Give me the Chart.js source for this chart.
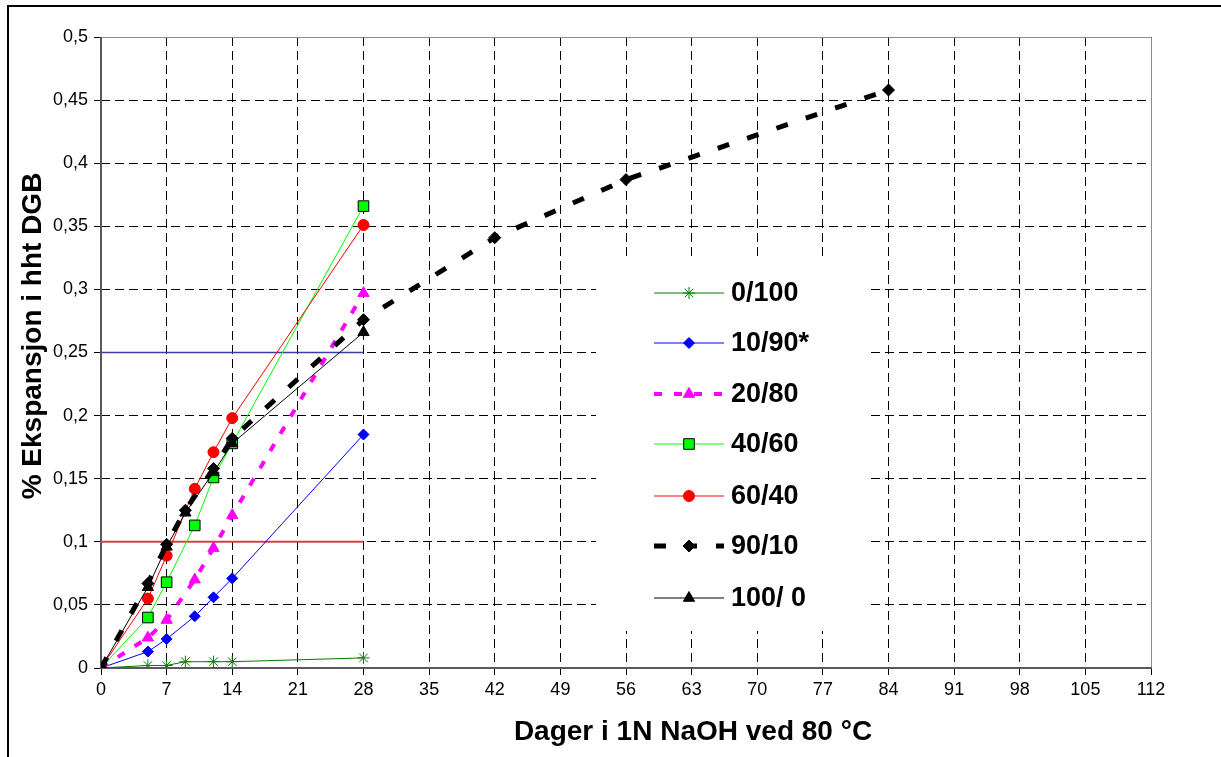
<!DOCTYPE html>
<html>
<head>
<meta charset="utf-8">
<script src="https://cdn.jsdelivr.net/npm/chart.js@4.4.1/dist/chart.umd.min.js"></script>
<style>
  html, body { margin: 0; padding: 0; background: #ffffff; }
  canvas { display: block; }
</style>
</head>
<body>
<canvas id="chart" width="1221" height="757"></canvas>
<script>
// Axis ticks
const yTickLabels = ['0', '0,05', '0,1', '0,15', '0,2', '0,25', '0,3', '0,35', '0,4', '0,45', '0,5'];
const xTickStep = 7;
const xMax = 112;

// Series: days in 1N NaOH and expansion (%)
const seriesNames = ['0/100', '10/90*', '20/80', '40/60', '60/40', '90/10', '100/ 0'];

const days0_100 = [0, 5, 7, 9, 12, 14, 28];
const exp0_100  = [0, 0.002, 0.002, 0.005, 0.005, 0.005, 0.008];

const days10_90 = [0, 5, 7, 10, 12, 14, 28];
const exp10_90  = [0, 0.013, 0.023, 0.041, 0.056, 0.071, 0.185];

const days20_80 = [0, 5, 7, 10, 12, 14, 28];
const exp20_80  = [0, 0.024, 0.038, 0.070, 0.095, 0.121, 0.297];

const days40_60 = [0, 5, 7, 10, 12, 14, 28];
const exp40_60  = [0, 0.040, 0.068, 0.113, 0.151, 0.178, 0.366];

const days60_40 = [0, 5, 7, 10, 12, 14, 28];
const exp60_40  = [0, 0.055, 0.089, 0.142, 0.171, 0.198, 0.351];

const days90_10 = [0, 5, 7, 9, 12, 14, 28, 42, 56, 84];
const exp90_10  = [0, 0.067, 0.098, 0.125, 0.158, 0.182, 0.276, 0.341, 0.387, 0.458];

const days100_0 = [0, 5, 7, 9, 12, 14, 28];
const exp100_0  = [0, 0.064, 0.096, 0.123, 0.155, 0.178, 0.266];

// Limit lines (0,25 % and 0,1 %) up to 28 days
const limitDays = [0, 28];
const limitHigh = [0.25, 0.25];
const limitLow  = [0.1, 0.1];

const toPoints = (xs, ys) => xs.map((x, i) => ({ x: x, y: ys[i] }));

const FONT = "'Liberation Sans', Arial, sans-serif";

const seriesDatasets = [
  {
    label: seriesNames[0], data: toPoints(days0_100, exp0_100),
    borderColor: '#008000', backgroundColor: '#008000', borderWidth: 1,
    pointStyle: 'star', pointRadius: 6, pointBorderColor: '#008000', pointBorderWidth: 1,
    order: 7
  },
  {
    label: seriesNames[1], data: toPoints(days10_90, exp10_90),
    borderColor: '#0000ff', backgroundColor: '#0000ff', borderWidth: 1,
    pointStyle: 'rectRot', pointRadius: 5.5, pointBorderColor: '#0000ff', pointBorderWidth: 1,
    order: 6
  },
  {
    label: seriesNames[2], data: toPoints(days20_80, exp20_80),
    borderColor: '#ff00ff', backgroundColor: '#ff00ff', borderWidth: 4, borderDash: [8, 12],
    pointStyle: 'triangle', pointRadius: 6.5, pointBorderColor: '#ff00ff', pointBorderWidth: 1,
    order: 5
  },
  {
    label: seriesNames[3], data: toPoints(days40_60, exp40_60),
    borderColor: '#00ff00', backgroundColor: '#00ff00', borderWidth: 1,
    pointStyle: 'rect', pointRadius: 7.5, pointBorderColor: '#000000', pointBorderWidth: 1,
    order: 4
  },
  {
    label: seriesNames[4], data: toPoints(days60_40, exp60_40),
    borderColor: '#ff0000', backgroundColor: '#ff0000', borderWidth: 1,
    pointStyle: 'circle', pointRadius: 5.5, pointBorderColor: '#ff0000', pointBorderWidth: 1,
    order: 3
  },
  {
    label: seriesNames[5], data: toPoints(days90_10, exp90_10),
    borderColor: '#000000', backgroundColor: '#000000', borderWidth: 5, borderDash: [12, 19],
    pointStyle: 'rectRot', pointRadius: 6, pointBorderColor: '#000000', pointBorderWidth: 1,
    order: 2
  },
  {
    label: seriesNames[6], data: toPoints(days100_0, exp100_0),
    borderColor: '#000000', backgroundColor: '#000000', borderWidth: 1,
    pointStyle: 'triangle', pointRadius: 6.5, pointBorderColor: '#000000', pointBorderWidth: 1,
    order: 1
  }
];

const limitDatasets = [
  {
    label: 'limitHigh', data: toPoints(limitDays, limitHigh),
    borderColor: '#3c3ca8', borderWidth: 1.5, pointRadius: 0, order: 9
  },
  {
    label: 'limitLow', data: toPoints(limitDays, limitLow),
    borderColor: '#c84646', borderWidth: 2, pointRadius: 0, order: 9
  }
];

// Frame, axis lines, legend and axis titles
const decorPlugin = {
  id: 'decor',
  beforeDraw(chart) {
    const ctx = chart.ctx;
    ctx.save();
    ctx.fillStyle = '#ffffff';
    ctx.fillRect(0, 0, chart.width, chart.height);
    ctx.strokeStyle = '#000000';
    ctx.lineWidth = 2;
    ctx.beginPath();
    ctx.moveTo(8, chart.height);
    ctx.lineTo(8, 6);
    ctx.lineTo(chart.width, 6);
    ctx.stroke();
    ctx.restore();
  },
  beforeDatasetsDraw(chart) {
    const ctx = chart.ctx;
    const a = chart.chartArea;
    ctx.save();
    // plot area frame (top / right)
    ctx.strokeStyle = '#8c8c8c';
    ctx.lineWidth = 1;
    ctx.beginPath();
    ctx.moveTo(a.left, a.top + 0.5);
    ctx.lineTo(a.right + 0.5, a.top + 0.5);
    ctx.lineTo(a.right + 0.5, a.bottom);
    ctx.stroke();
    // axis lines
    ctx.strokeStyle = '#595959';
    ctx.lineWidth = 2;
    ctx.beginPath();
    ctx.moveTo(a.left, a.top);
    ctx.lineTo(a.left, a.bottom);
    ctx.lineTo(a.right + 1, a.bottom);
    ctx.stroke();
    // legend background
    ctx.fillStyle = '#ffffff';
    ctx.fillRect(596, 260, 273, 371);
    ctx.restore();
  },
  afterDatasetsDraw(chart) {
    const ctx = chart.ctx;
    ctx.save();
    // legend
    const rowY = [293, 343, 394, 444, 496, 546, 598];
    const x0 = 654, x1 = 724, xm = 689, xt = 731;
    seriesDatasets.forEach((ds, i) => {
      const y = rowY[i];
      ctx.save();
      ctx.strokeStyle = ds.borderColor;
      ctx.lineWidth = ds.borderWidth;
      ctx.setLineDash(ds.borderDash || []);
      ctx.beginPath();
      ctx.moveTo(x0, y);
      ctx.lineTo(x1, y);
      ctx.stroke();
      ctx.setLineDash([]);
      ctx.fillStyle = ds.backgroundColor;
      ctx.strokeStyle = ds.pointBorderColor;
      ctx.lineWidth = ds.pointBorderWidth;
      Chart.helpers.drawPoint(ctx, {
        pointStyle: ds.pointStyle, radius: ds.pointRadius, rotation: 0, borderWidth: ds.pointBorderWidth
      }, xm, y);
      ctx.restore();
      ctx.fillStyle = '#000000';
      ctx.font = 'bold 27px ' + FONT;
      ctx.textAlign = 'left';
      ctx.textBaseline = 'middle';
      ctx.fillText(ds.label, xt, y + 1);
    });
    // axis titles
    ctx.fillStyle = '#000000';
    ctx.font = 'bold 28px ' + FONT;
    ctx.textAlign = 'center';
    ctx.textBaseline = 'middle';
    ctx.fillText('Dager i 1N NaOH ved 80 °C', 693, 732);
    ctx.translate(33, 336);
    ctx.rotate(-Math.PI / 2);
    ctx.fillText('% Ekspansjon i hht DGB', 0, 0);
    ctx.restore();
  }
};

new Chart(document.getElementById('chart'), {
  type: 'line',
  data: { datasets: seriesDatasets.concat(limitDatasets) },
  options: {
    responsive: false,
    animation: false,
    events: [],
    layout: { padding: { left: 0, top: 37, right: 70, bottom: 0 } },
    elements: { line: { tension: 0, fill: false } },
    plugins: {
      legend: { display: false },
      tooltip: { enabled: false },
      title: { display: false }
    },
    scales: {
      x: {
        type: 'linear',
        min: 0,
        max: xMax,
        afterFit(scale) { scale.height = 89; },
        ticks: {
          stepSize: xTickStep,
          color: '#000000',
          font: { family: FONT, size: 18 },
          padding: 4,
          maxRotation: 0,
          callback: (v) => String(v)
        },
        grid: {
          color: '#000000',
          lineWidth: 1,
          tickLength: 7,
          tickColor: '#000000'
        },
        border: { display: false, dash: [9, 5] }
      },
      y: {
        type: 'linear',
        min: 0,
        max: 0.5,
        afterFit(scale) { scale.width = 101; },
        ticks: {
          stepSize: 0.05,
          color: '#000000',
          font: { family: FONT, size: 18 },
          padding: 6,
          callback: (v, i) => yTickLabels[i]
        },
        grid: {
          color: '#000000',
          lineWidth: 1,
          tickLength: 7,
          tickColor: '#000000'
        },
        border: { display: false, dash: [9, 5] }
      }
    }
  },
  plugins: [decorPlugin]
});
</script>
</body>
</html>
